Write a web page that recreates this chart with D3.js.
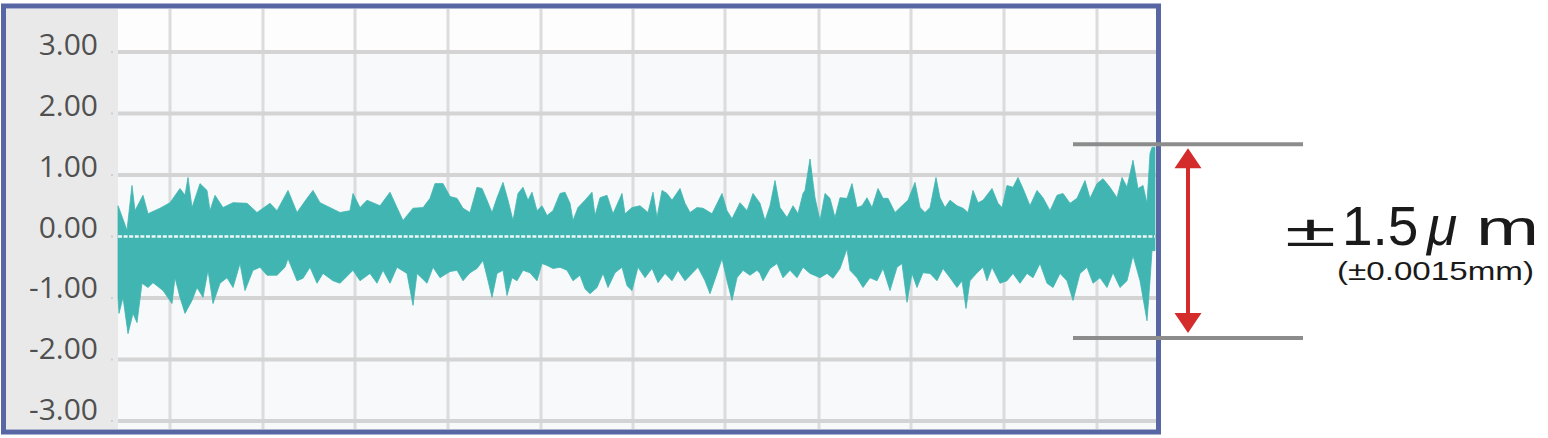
<!DOCTYPE html>
<html>
<head>
<meta charset="utf-8">
<script src="https://cdn.jsdelivr.net/npm/d3@7"></script>
<style>
body { margin: 0; background: #fff; }
svg { display: block; }
</style>
</head>
<body>
<div id="chart"></div>
<script>
// Data: deviation in µm along the travel

var yTicks = [3, 2, 1, 0, -1, -2, -3];
var xGrid = [52, 145, 237, 330, 423, 515, 607, 701, 793, 886, 979];
var tolerance = [1.5, -1.65];

// upper envelope [position, µm]
var upperEdge = [
	[0,0.50],[1,0.46],[9,0.10],[14,0.83],[17,0.42],[25,0.67],[30,0.37],[42,0.46],[52,0.55],[62,0.78],
	[67,0.67],[70,0.96],[74,0.47],[82,0.86],[89,0.75],[92,0.42],[97,0.67],[105,0.47],[115,0.55],[129,0.54],
	[139,0.39],[152,0.54],[159,0.42],[170,0.75],[179,0.39],[189,0.62],[195,0.75],[202,0.55],[212,0.47],[222,0.39],
	[232,0.42],[235,0.70],[242,0.47],[249,0.59],[262,0.50],[272,0.72],[279,0.47],[285,0.26],[295,0.46],[305,0.47],
	[312,0.62],[317,0.86],[325,0.86],[332,0.65],[339,0.62],[345,0.46],[352,0.39],[359,0.80],[364,0.78],[369,0.59],
	[374,0.39],[379,0.63],[385,0.88],[390,0.59],[395,0.26],[400,0.70],[405,0.80],[410,0.59],[414,0.72],[419,0.42],
	[424,0.50],[429,0.34],[435,0.42],
	[442,0.70],[447,0.72],[452,0.54],[455,0.26],[460,0.47],[467,0.59],[474,0.72],[477,0.34],[482,0.63],[489,0.67],
	[495,0.37],[504,0.70],[507,0.37],[514,0.47],[522,0.50],[530,0.39],[535,0.72],[539,0.31],[544,0.75],[549,0.70],
	[554,0.59],[562,0.78],[567,0.54],[572,0.39],[579,0.47],[585,0.46],[594,0.37],[604,0.70],[609,0.42],[614,0.29],
	[622,0.55],[629,0.42],[635,0.70],[642,0.54],
	[647,0.26],[652,0.50],[657,0.91],[662,0.47],[669,0.31],[675,0.50],[680,0.37],[685,0.70],
	[687,0.75],[692,1.26],[697,0.63],[702,0.26],[707,0.70],[712,0.62],[717,0.31],[722,0.63],[729,0.62],[734,0.86],
	[739,0.47],[744,0.50],[749,0.63],[754,0.47],[760,0.78],[765,0.62],[770,0.62],[777,0.39],[784,0.50],[790,0.59],
	[797,0.88],[802,0.47],[807,0.39],[812,0.47],[818,0.96],[822,0.63],[827,0.47],[832,0.59],[839,0.50],[845,0.46],
	[850,0.39],[855,0.75],[860,0.55],[865,0.59],[874,0.78],[880,0.54],[884,0.47],[889,0.83],[895,0.80],[900,0.96],
	[905,0.78],[912,0.50],[919,0.75],[925,0.63],[932,0.42],[939,0.67],[945,0.70],[952,0.54],[959,0.62],[967,0.91],
	[972,0.62],[979,0.86],[985,0.94],[992,0.80],[999,0.63],[1004,0.96],[1009,0.80],[1015,1.24],[1020,0.78],[1025,0.83],
	[1029,0.54],[1032,1.35],[1034,1.45],[1037,1.45]
];

// lower envelope [position, µm]
var lowerEdge = [
	[0,-1.00],[1,-1.25],[5,-0.99],[10,-1.58],[15,-1.25],[19,-1.40],[24,-0.76],[30,-0.83],[35,-0.75],[45,-0.88],
	[54,-1.09],[57,-0.67],[62,-0.99],[67,-1.25],[74,-1.04],[79,-0.83],[85,-0.99],[90,-0.55],[95,-1.09],[102,-0.76],
	[109,-0.67],[115,-0.83],[122,-0.44],[127,-0.88],[135,-0.55],[142,-0.50],[149,-0.63],[159,-0.63],[167,-0.50],[170,-0.36],
	[179,-0.72],[185,-0.68],[192,-0.50],[199,-0.76],[205,-0.60],[215,-0.72],[222,-0.76],[235,-0.55],[242,-0.72],[252,-0.60],
	[259,-0.76],[265,-0.55],[272,-0.76],[279,-0.50],[289,-0.60],[295,-1.12],[299,-0.60],[309,-0.76],[315,-0.50],[322,-0.67],
	[332,-0.57],[339,-0.55],[345,-0.72],[352,-0.59],[359,-0.52],[365,-0.39],[370,-0.72],[374,-0.99],[379,-0.60],[385,-0.55],
	[389,-0.96],[394,-0.67],[399,-0.72],[405,-0.55],[412,-0.59],[419,-0.72],[424,-0.44],[429,-0.47],[435,-0.52],
	[442,-0.50],[449,-0.55],[455,-0.72],[462,-0.63],[467,-0.85],[472,-0.93],[479,-0.83],[485,-0.60],[490,-0.83],[497,-0.59],
	[504,-0.50],[509,-0.80],[514,-0.88],[520,-0.50],[527,-0.67],[534,-0.52],[540,-0.75],[547,-0.60],[554,-0.72],[560,-0.55],
	[567,-0.72],[574,-0.60],[580,-0.50],[587,-0.72],[592,-0.93],[599,-0.60],[604,-0.36],[609,-0.72],[614,-1.04],[619,-0.67],
	[625,-0.55],[632,-0.63],[639,-0.55],[642,-0.60],
	[645,-0.72],[652,-0.52],[659,-0.44],[665,-0.67],[672,-0.55],[679,-0.67],[685,-0.50],
	[692,-0.60],[702,-0.67],[709,-0.60],[715,-0.68],[722,-0.52],[729,-0.20],[732,-0.55],[739,-0.67],[745,-0.83],[752,-0.67],
	[759,-0.72],[765,-0.52],[772,-0.88],[779,-0.50],[784,-0.44],[789,-1.07],[794,-0.60],[799,-0.83],[805,-0.59],[812,-0.60],
	[819,-0.72],[825,-0.52],[832,-0.67],[839,-0.83],[844,-0.72],[848,-1.17],[852,-0.72],[859,-0.59],[865,-0.50],[869,-0.72],
	[874,-0.50],[882,-0.76],[889,-0.72],[895,-0.60],[902,-0.76],[909,-0.60],[915,-0.67],[922,-0.44],[929,-0.76],[935,-0.83],
	[942,-0.60],[949,-0.72],[955,-1.04],[962,-0.60],[969,-0.50],[975,-0.76],[982,-0.67],[989,-0.83],[995,-0.59],[1002,-0.83],
	[1009,-0.72],[1015,-0.31],[1022,-0.72],[1029,-1.37],[1032,-0.72],[1034,-0.23],[1037,-0.23]
];


// Setup

var width = 1548, height = 438;
var plot = { left: 118, right: 1158, top: 9, bottom: 429 };

var x = d3.scaleLinear().domain([0, 1040]).range([plot.left, plot.right]);
var y = d3.scaleLinear().domain([-3, 3]).range([421, 52]);
// the printed labels sit on a slightly tighter spacing than the grid
var yLabel = d3.scaleLinear().domain([-3, 3]).range([420, 55]);

var fmt = d3.formatLocale({ decimal: '.', thousands: ',', grouping: [3], currency: ['', ''], minus: '-' }).format('.2f');

var svg = d3.select('#chart').append('svg')
	.attr('width', width)
	.attr('height', height);

// panels
svg.append('rect')
	.attr('x', 6).attr('y', plot.top)
	.attr('width', plot.left - 6).attr('height', plot.bottom - plot.top)
	.attr('fill', '#e9e9e9');
svg.append('rect')
	.attr('x', plot.left).attr('y', plot.top)
	.attr('width', plot.right - plot.left).attr('height', plot.bottom - plot.top)
	.attr('fill', '#f7f9fb');
svg.append('rect')
	.attr('x', plot.left).attr('y', plot.top)
	.attr('width', plot.right - plot.left).attr('height', y(3) - plot.top)
	.attr('fill', '#fdfdfe');

// grid
svg.append('g').selectAll('line')
	.data(xGrid)
	.enter().append('line')
		.attr('x1', d => x(d)).attr('x2', d => x(d))
		.attr('y1', plot.top).attr('y2', plot.bottom)
		.attr('stroke', '#dcdcdc')
		.attr('stroke-width', 3);

svg.append('g').selectAll('line')
	.data(yTicks)
	.enter().append('line')
		.attr('x1', plot.left).attr('x2', plot.right)
		.attr('y1', d => y(d)).attr('y2', d => y(d))
		.attr('stroke', '#d4d4d4')
		.attr('stroke-width', 4);

svg.append('g').selectAll('line')
	.data(yTicks)
	.enter().append('line')
		.attr('x1', plot.left - 7).attr('x2', plot.left - 5)
		.attr('y1', d => y(d)).attr('y2', d => y(d))
		.attr('stroke', '#cfcfcf')
		.attr('stroke-width', 2);

// envelope
var outline = upperEdge.map(d => [x(d[0]), y(d[1])])
	.concat(lowerEdge.slice().reverse().map(d => [x(d[0]), y(d[1])]));

svg.append('path')
	.attr('d', d3.line()(outline) + 'Z')
	.attr('fill', '#40b5b1')
	.attr('stroke', '#40b5b1')
	.attr('stroke-width', 0.8)
	.attr('stroke-linejoin', 'round');

svg.append('line')
	.attr('x1', x(0)).attr('x2', x(1037))
	.attr('y1', y(0)).attr('y2', y(0))
	.attr('stroke', '#ffffff')
	.attr('stroke-opacity', 0.9)
	.attr('stroke-width', 2.5)
	.attr('stroke-dasharray', '4 1.6');

// labels
svg.append('g').selectAll('text')
	.data(yTicks)
	.enter().append('text')
		.attr('x', 98)
		.attr('y', d => yLabel(d))
		.attr('text-anchor', 'end')
		.attr('font-family', '"Open Sans", sans-serif')
		.attr('font-size', 30)
		.attr('fill', '#505050')
		.text(fmt);

// frame
svg.append('rect')
	.attr('x', 3.5).attr('y', 6)
	.attr('width', 1155).attr('height', 426)
	.attr('fill', 'none')
	.attr('stroke', '#5867a3')
	.attr('stroke-width', 5);

// tolerance band annotation
svg.append('g').selectAll('line')
	.data(tolerance)
	.enter().append('line')
		.attr('x1', 1073).attr('x2', 1303)
		.attr('y1', d => y(d)).attr('y2', d => y(d))
		.attr('stroke', '#8c8c8c')
		.attr('stroke-width', 4);

var arrowX = 1188;
var topTip = y(tolerance[0]) + 4;
var botTip = y(tolerance[1]) - 5;
var red = '#d42b2b';

svg.append('line')
	.attr('x1', arrowX).attr('x2', arrowX)
	.attr('y1', topTip + 10).attr('y2', botTip - 10)
	.attr('stroke', red)
	.attr('stroke-width', 4);

svg.append('path')
	.attr('d', `M${arrowX},${topTip} L${arrowX + 13.5},${topTip + 20} L${arrowX - 13.5},${topTip + 20} Z`
		+ ` M${arrowX},${botTip} L${arrowX + 13.5},${botTip - 20} L${arrowX - 13.5},${botTip - 20} Z`)
	.attr('fill', red);

var big = svg.append('g')
	.attr('font-family', '"Liberation Sans", Arial, sans-serif')
	.attr('fill', '#1a1a1a');

big.append('text')
	.attr('x', 1285).attr('y', 246)
	.attr('font-size', 44)
	.attr('textLength', 51)
	.attr('lengthAdjust', 'spacingAndGlyphs')
	.text('±');
big.append('text')
	.attr('x', 1342).attr('y', 245)
	.attr('font-size', 55)
	.text('1.5');
big.append('text')
	.attr('x', 1427).attr('y', 245)
	.attr('font-size', 55)
	.attr('font-style', 'italic')
	.text('μ');
big.append('text')
	.attr('x', 1476).attr('y', 245)
	.attr('font-size', 50)
	.attr('textLength', 63)
	.attr('lengthAdjust', 'spacingAndGlyphs')
	.text('m');
big.append('text')
	.attr('x', 1337).attr('y', 280)
	.attr('font-size', 25)
	.attr('textLength', 197)
	.attr('lengthAdjust', 'spacingAndGlyphs')
	.text('(±0.0015mm)');
</script>
</body>
</html>
